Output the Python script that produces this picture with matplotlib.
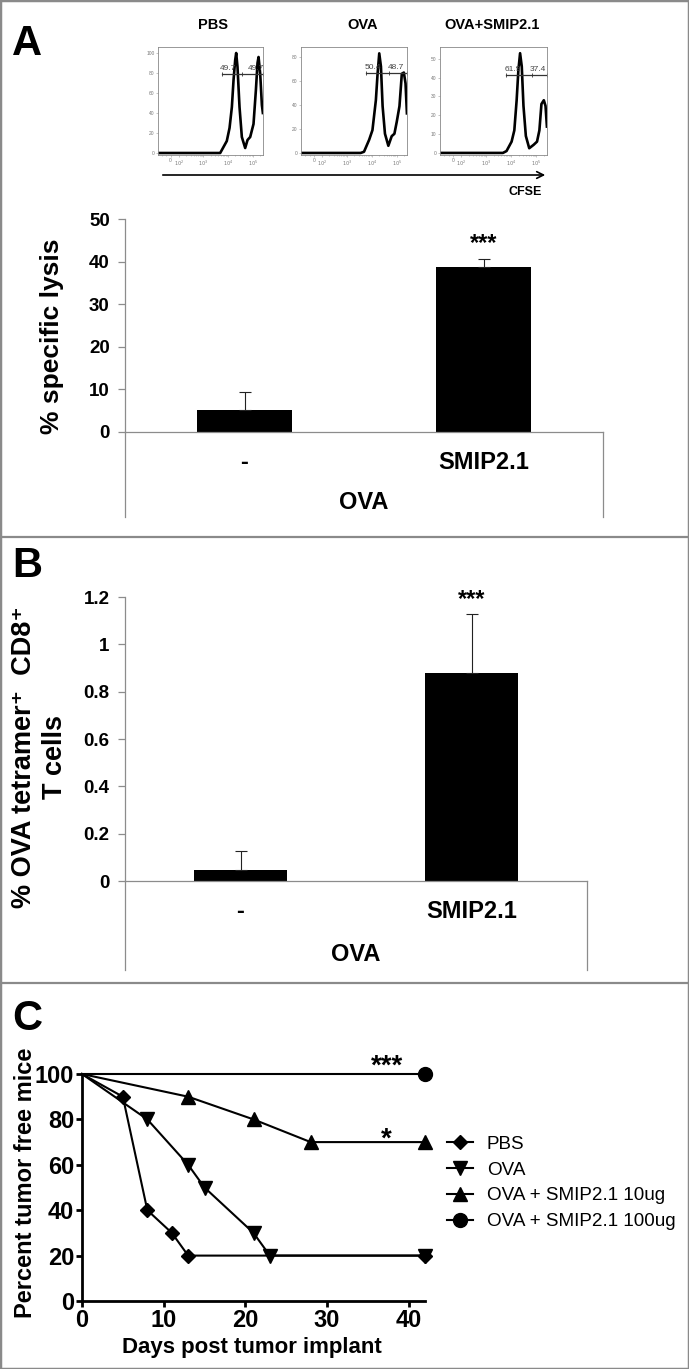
import numpy as np
import matplotlib
matplotlib.use('Agg')
import matplotlib.pyplot as plt
from matplotlib.lines import Line2D
from matplotlib.patches import Rectangle, FancyArrowPatch

plt.rcParams['font.family'] = ['Liberation Sans', 'DejaVu Sans']

W, H = 689, 1369

# ---- panel A, flow histograms (CFSE) ----
hist_titles = ['PBS', 'OVA', 'OVA+SMIP2.1']
pbs_x = [-150, 4800, 5600, 8900, 11500, 14300, 16700, 19500, 21400, 24200, 29200,
         36300, 49600, 61700, 79200, 108000, 135000, 157000, 173000, 202000, 236000, 259000]
pbs_y = [0, 0, 3, 12, 25, 46, 73, 93, 100, 86, 46, 16, 5, 13, 16, 29, 63, 90, 96, 79, 48, 40]
ova_x = [-150, 3600, 4900, 7900, 10700, 14700, 17200, 20100, 23500, 27400, 34100, 46600,
         63700, 81700, 101600, 130600, 162300, 195900, 228700, 260000]
ova_y = [0, 0, 1, 11, 19, 44, 66, 83, 72, 39, 16, 6, 14, 16, 26, 39, 66, 67, 58, 33]
smip_x = [-150, 4600, 6400, 10200, 13100, 16200, 19000, 22200, 25900, 30300, 37700, 51400,
          76700, 104900, 130500, 157400, 195900, 228700, 260000]
smip_y = [0, 0, 1, 6, 12, 28, 44, 53, 46, 25, 9, 2.5, 4.3, 6, 12, 26, 28, 25, 14]
hist_x = [pbs_x, ova_x, smip_x]
hist_y = [pbs_y, ova_y, smip_y]
hist_ylim = [(-2, 106), (-1.7, 88.3), (-1.1, 56.3)]
hist_yticks = [[0, 20, 40, 60, 80, 100], [0, 20, 40, 60, 80], [0, 10, 20, 30, 40, 50]]
gate_levels = [79, 67, 41.5]
gate_edges = [[5800, 37000, 262000], [5800, 49000, 262000], [6300, 66000, 262000]]
gate_labels = [['49.7', '49.7'], ['50.4', '48.7'], ['61.9', '37.4']]
gate_label_x = [[10000, 140000], [10800, 95500], [11100, 115000]]

# ---- panel A / B bars ----
groups = ['-', 'SMIP2.1']
lysis = [5.1, 38.8]
lysis_err = [4.4, 1.8]
tetramer = [0.048, 0.878]
tetramer_err = [0.078, 0.25]

# ---- panel C survival ----
days_pbs = [0, 5, 8, 11, 13, 42]
pct_pbs = [100, 90, 40, 30, 20, 20]
days_ova = [0, 8, 13, 15, 21, 23, 42]
pct_ova = [100, 80, 60, 50, 30, 20, 20]
days_10 = [0, 13, 21, 28, 42]
pct_10 = [100, 90, 80, 70, 70]
days_100 = [0, 42]
pct_100 = [100, 100]

fig = plt.figure(figsize=(W / 100, H / 100), dpi=100)


def px_axes(l, t, r, b):
    return fig.add_axes([l / W, 1 - b / H, (r - l) / W, (b - t) / H])


def ftext(x, y, s, **kw):
    fig.text(x / W, 1 - y / H, s, **kw)


# flow histograms
boxes = [(158, 47, 263, 155), (301, 47, 407, 155), (440, 47, 547, 155)]
title_x = [213, 363, 492]
minor = [-100, -50] + [m * 10 ** k for k in (2, 3, 4) for m in range(2, 10)] + [200000]
for i, bx in enumerate(boxes):
    ax = px_axes(*bx)
    ax.set_xscale('symlog', linthresh=100, linscale=0.3)
    ax.plot(hist_x[i], hist_y[i], color='black', lw=1.9, solid_joinstyle='round')
    e = gate_edges[i]
    lv = gate_levels[i]
    ax.plot(e, [lv] * 3, color='#333', lw=0.9, marker='|', ms=3, mew=0.6)
    for lx, lab in zip(gate_label_x[i], gate_labels[i]):
        ax.text(lx, lv + 1.5 * (hist_ylim[i][1] / 100), lab, ha='center', va='bottom',
                fontsize=6, color='#444')
    ax.set_xlim(-150, 262144)
    ax.set_ylim(*hist_ylim[i])
    ax.set_xticks([0, 100, 1000, 10000, 100000])
    ax.set_xticklabels(['0', '$10^2$', '$10^3$', '$10^4$', '$10^5$'])
    ax.set_xticks(minor, minor=True)
    ax.set_yticks(hist_yticks[i])
    ax.tick_params(which='both', labelsize=3.5, labelcolor='#777', color='#999',
                   length=1.5, width=0.4, pad=1)
    ax.tick_params(which='minor', length=1)
    for sp in ax.spines.values():
        sp.set_color('#888')
        sp.set_linewidth(0.6)
    ftext(title_x[i], 25, hist_titles[i], ha='center', va='center',
          fontsize=10.5, fontweight='bold')

fig.add_artist(FancyArrowPatch((160 / W, 1 - 175 / H), (548 / W, 1 - 175 / H),
                               transform=fig.transFigure, arrowstyle='->',
                               mutation_scale=12, lw=1.2, color='black'))
ftext(525, 192, 'CFSE', ha='center', va='center', fontsize=9, fontweight='bold')

grey = '#8c8c8c'


def excel_bars(ax, vals, errs, ymax, yticks, yticklabels, lab_y, ova_y, drop, star_y):
    ax.bar([0, 1], vals, width=0.4, color='black', zorder=2)
    ax.errorbar([0, 1], vals, yerr=[[0, 0], errs], fmt='none', ecolor='#222',
                elinewidth=0.8, capsize=4.5, capthick=0.8, zorder=3)
    ax.set_xlim(-0.5, 1.5)
    ax.set_ylim(0, ymax)
    ax.set_yticks(yticks)
    ax.set_yticklabels(yticklabels)
    ax.set_xticks([])
    for s in ('top', 'right'):
        ax.spines[s].set_visible(False)
    for s in ('left', 'bottom'):
        ax.spines[s].set_color(grey)
        ax.spines[s].set_linewidth(0.9)
    ax.tick_params(axis='y', direction='out', length=5, width=0.9, color=grey,
                   labelsize=13.5, pad=6)
    for t in ax.get_yticklabels():
        t.set_fontweight('bold')
    for xx in (0, 1):
        ax.plot([xx, xx], [0, -drop], transform=ax.transAxes, color=grey, lw=0.9,
                clip_on=False)
    tr = ax.get_xaxis_transform()
    for i, g in enumerate(groups):
        ax.text(i, lab_y, g, transform=tr, ha='center', va='center', fontsize=17,
                fontweight='bold')
    ax.text(0.5, ova_y, 'OVA', transform=tr, ha='center', va='center', fontsize=17,
            fontweight='bold')
    ax.text(1, star_y, '***', ha='center', va='baseline', fontsize=17, fontweight='bold')


axA = px_axes(125, 219, 603, 432)
excel_bars(axA, lysis, lysis_err, 50, [0, 10, 20, 30, 40, 50],
           ['0', '10', '20', '30', '40', '50'], -0.141, -0.333, 0.399, 42.7)
ftext(52, 336, '% specific lysis', rotation=90, ha='center', va='center',
      fontsize=19, fontweight='bold')

axB = px_axes(125, 597, 587, 881)
excel_bars(axB, tetramer, tetramer_err, 1.2, [0, 0.2, 0.4, 0.6, 0.8, 1.0, 1.2],
           ['0', '0.2', '0.4', '0.6', '0.8', '1', '1.2'], -0.109, -0.26, 0.313, 1.16)
ftext(40, 757, '% OVA tetramer\u207a  CD8\u207a\nT cells', rotation=90, ha='center',
      va='center', fontsize=19.5, fontweight='bold', linespacing=1.25,
      multialignment='center')

# panel C
axC = px_axes(82, 1074, 425, 1301)
ms = dict(color='black', lw=1.5, mfc='black', mec='black', clip_on=False,
          markevery=slice(1, None))
axC.plot(days_pbs, pct_pbs, marker='D', ms=7, label='PBS', **ms)
axC.plot(days_ova, pct_ova, marker='v', ms=10, label='OVA', **ms)
axC.plot(days_10, pct_10, marker='^', ms=10, label='OVA + SMIP2.1 10ug', **ms)
axC.plot(days_100, pct_100, marker='o', ms=10, label='OVA + SMIP2.1 100ug', **ms)
axC.set_xlim(0, 42)
axC.set_ylim(0, 100)
axC.set_xticks([0, 10, 20, 30, 40])
axC.set_yticks([0, 20, 40, 60, 80, 100])
for s in ('top', 'right'):
    axC.spines[s].set_visible(False)
for s in ('left', 'bottom'):
    axC.spines[s].set_linewidth(2)
axC.tick_params(direction='out', length=4, width=2, labelsize=17, pad=1.5)
for t in axC.get_xticklabels() + axC.get_yticklabels():
    t.set_fontweight('bold')
axC.text(37.3, 100, '***', ha='center', va='baseline', fontsize=20, fontweight='bold')
axC.text(37.3, 68, '*', ha='center', va='baseline', fontsize=20, fontweight='bold')
axC.legend(loc='center left', bbox_to_anchor=(447 / W, 1 - 1183 / H),
           bbox_transform=fig.transFigure, frameon=False, fontsize=13.6,
           handlelength=1.4, handletextpad=0.7, labelspacing=0.45, borderpad=0,
           borderaxespad=0)
ftext(26, 1183, 'Percent tumor free mice', rotation=90, ha='center', va='center',
      fontsize=17, fontweight='bold')
ftext(252, 1347, 'Days post tumor implant', ha='center', va='center', fontsize=16,
      fontweight='bold')

# panel letters
for lab, yb in (('A', 55), ('B', 577), ('C', 1030)):
    ftext(12, yb, lab, ha='left', va='baseline', fontsize=30, fontweight='bold')

# panel frames
fig.add_artist(Rectangle((0, 0), 1, 1, transform=fig.transFigure, fill=False,
                         ec='#8a8a8a', lw=2.5))
for yy in (537, 983):
    fig.add_artist(Line2D([0, 1], [1 - yy / H] * 2, transform=fig.transFigure,
                          color='#8a8a8a', lw=1.6))

fig.savefig('out.png', dpi=100)
